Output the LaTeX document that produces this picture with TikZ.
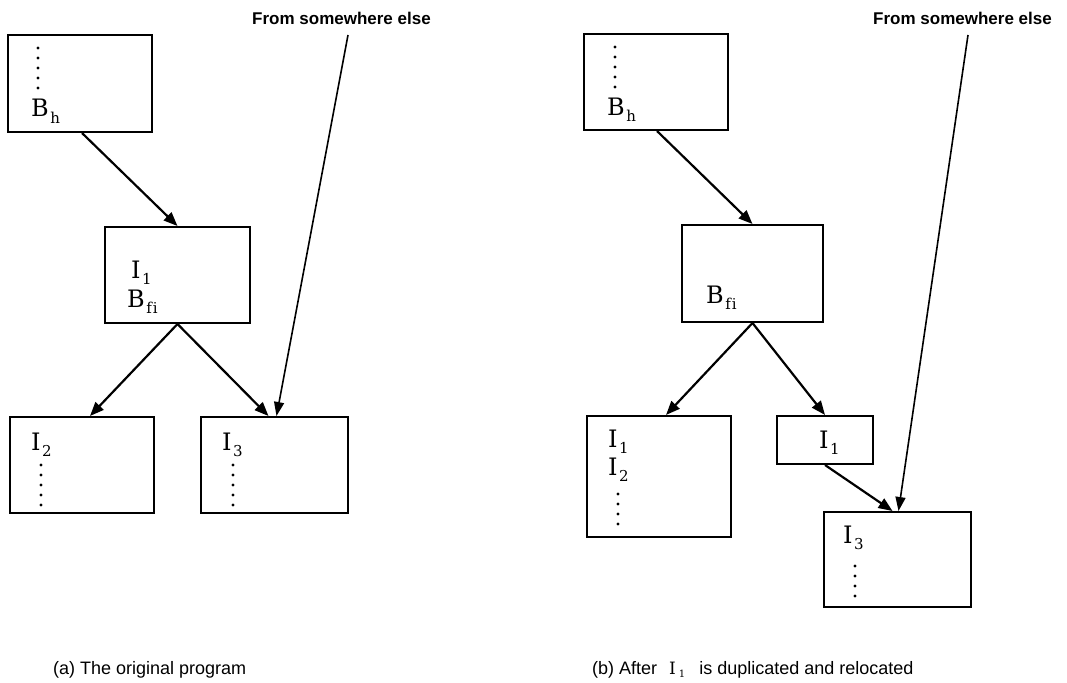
\documentclass[tikz,border=0pt]{standalone}
\usepackage{fontspec}
\newfontfamily\capfont{Liberation Sans}
\newfontfamily\labfont{DejaVu Serif}
\usetikzlibrary{arrows.meta}
\newcommand\lbl[2]{{\fontsize{24}{28}\selectfont #1}\kern1.5pt\raisebox{-6.5pt}{\fontsize{15}{18}\selectfont #2}}
\tikzset{
  box/.style={draw, line width=2pt, inner sep=0pt},
  lab/.style={anchor=base west, inner sep=0pt, font=\labfont},
  arr/.style={line width=2.2pt, -{Triangle[length=14pt,width=11pt]}},
  thinarr/.style={line width=1.6pt, -{Triangle[length=14pt,width=10pt]}},
  srctxt/.style={anchor=base west, inner sep=0pt, font=\capfont\bfseries\fontsize{17}{20}\selectfont},
  captxt/.style={anchor=base west, inner sep=0pt, font=\capfont\fontsize{18}{21}\selectfont},
  dotfill/.style={fill=black}
}
\begin{document}
\begin{tikzpicture}[x=1pt,y=-1pt]
\useasboundingbox (0,0) rectangle (1067,682);
% ---------------- panel (a) ----------------
\node[box, minimum width=144pt, minimum height=97pt] (BhA) at (80,83.5) {};
\node[box, minimum width=145pt, minimum height=96pt] (MidA) at (177.5,275) {};
\node[box, minimum width=144pt, minimum height=96pt] (I2A) at (82,465) {};
\node[box, minimum width=147pt, minimum height=96pt] (I3A) at (274.5,465) {};
\foreach \y in {48,58,68,78,88} \fill[dotfill] (38,\y) circle (1.6pt);
\node[lab] (tBhA) at (31,117) {\lbl{B}{h}};
\node[lab] (tI1A) at (131,278) {\lbl{I}{1}};
\node[lab] (tBfA) at (127,307) {\lbl{B}{f\kern1pt i}};
\node[lab] (tI2A) at (31,450) {\lbl{I}{2}};
\foreach \y in {465,475,485,495,505} \fill[dotfill] (41,\y) circle (1.6pt);
\node[lab] (tI3A) at (222,450) {\lbl{I}{3}};
\foreach \y in {465,475,485,495,505} \fill[dotfill] (233,\y) circle (1.6pt);
\node[srctxt] (srcA) at (252,25) {From somewhere else};
\coordinate (sA) at (348,35);
\draw[arr] ([xshift=2pt]BhA.south) -- (MidA.north);
\draw[arr] (MidA.south) -- ([xshift=8pt]I2A.north);
\draw[arr] (MidA.south) -- ([xshift=-6pt]I3A.north);
\draw[thinarr] (sA) -- ([xshift=2pt]I3A.north);
% ---------------- panel (b) ----------------
\node[box, minimum width=144pt, minimum height=96pt] (BhB) at (656,82) {};
\node[box, minimum width=141pt, minimum height=97pt] (BfB) at (752.5,273.5) {};
\node[box, minimum width=144pt, minimum height=121pt] (I12B) at (659,476.5) {};
\node[box, minimum width=96pt, minimum height=48pt] (I1B) at (825,440) {};
\node[box, minimum width=147pt, minimum height=95pt] (I3B) at (897.5,559.5) {};
\foreach \y in {47,57,67,77,87} \fill[dotfill] (615,\y) circle (1.6pt);
\node[lab] (tBhB) at (607,115) {\lbl{B}{h}};
\node[lab] (tBfB) at (706,303) {\lbl{B}{f\kern1pt i}};
\node[lab] (tI1B) at (608,447) {\lbl{I}{1}};
\node[lab] (tI2B) at (608,475) {\lbl{I}{2}};
\foreach \y in {494,504,514,524} \fill[dotfill] (618,\y) circle (1.6pt);
\node[lab] (tI1C) at (819,448) {\lbl{I}{1}};
\node[lab] (tI3B) at (843,543) {\lbl{I}{3}};
\foreach \y in {566,576,586,596} \fill[dotfill] (855,\y) circle (1.6pt);
\node[srctxt] (srcB) at (873,25) {From somewhere else};
\coordinate (sB) at (968,35);
\draw[arr] ([xshift=1pt]BhB.south) -- (BfB.north);
\draw[arr] (BfB.south) -- ([xshift=7pt]I12B.north);
\draw[arr] (BfB.south) -- (I1B.north);
\draw[arr] (I1B.south) -- ([xshift=-5pt]I3B.north);
\draw[thinarr] (sB) -- ([xshift=1pt]I3B.north);
% ---------------- captions ----------------
\node[captxt] (capA) at (53,674) {(a) The original program};
\node[captxt] (capB) at (592,674) {(b) After\ \ \kern2pt{\labfont\fontsize{17}{21}\selectfont I\kern3pt\raisebox{-3pt}{\fontsize{10}{12}\selectfont 1}}\ \ \kern4pt is duplicated and relocated};
\end{tikzpicture}
\end{document}
